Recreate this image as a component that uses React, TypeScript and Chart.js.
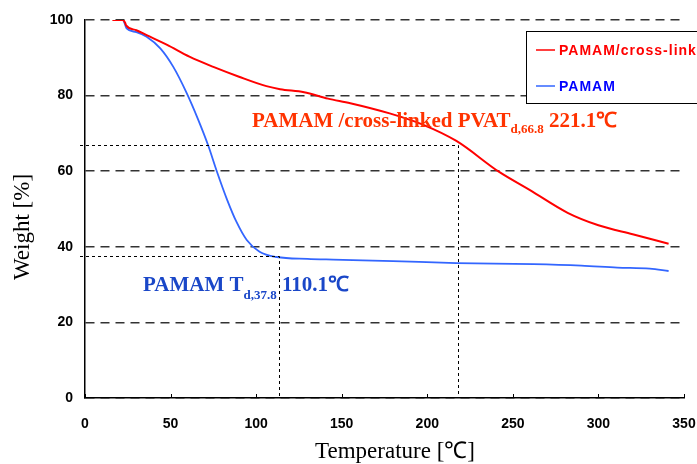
import React, { useEffect, useRef } from "react";
import { Chart, registerables } from "chart.js";

Chart.register(...registerables);

// ---- data ----
const seriesLabels = ["PAMAM/cross-link", "PAMAM"];

const crossLinkTemp = [16, 22, 23.5, 24, 30, 36, 48, 61, 75, 90, 106, 114, 128, 142, 155, 178, 197, 217, 242, 260, 282, 300, 320, 341];
const crossLinkWeight = [100, 100, 99.2, 98.6, 97.3, 96.0, 93.4, 90.3, 87.6, 85.0, 82.5, 81.7, 80.9, 79.2, 78.0, 75.3, 72.4, 68.0, 59.8, 55.0, 49.0, 45.7, 43.3, 40.8];

const pamamTemp = [22.4, 23.4, 24.3, 30, 36, 44, 51.6, 59.5, 66, 72, 77, 83, 88.6, 94.5, 102, 112, 130, 145, 180, 217, 262, 290, 311, 330, 341];
const pamamWeight = [100, 98.8, 97.8, 96.8, 95.6, 92.5, 87.6, 80.6, 73.8, 66.8, 60.0, 52.5, 46.5, 41.8, 38.7, 37.3, 36.8, 36.6, 36.2, 35.7, 35.4, 35.0, 34.5, 34.2, 33.6];

const xTickValues = [0, 50, 100, 150, 200, 250, 300, 350];

// decomposition markers: [temperature, weight]
const crossLinkMarker = [218, 66.8];
const pamamMarker = [113.4, 37.6];

const crossLinkNote = ["PAMAM /cross-linked PVAT", "d,66.8", " 221.1℃"];
const pamamNote = ["PAMAM T", "d,37.8", " 110.1℃"];

const xTitle = "Temperature [℃]";
const yTitle = "Weight [%]";

const RED = "#ff0000";
const BLUE = "#3366ff";
const SANS = "'Liberation Sans', Arial, sans-serif";
const SERIF = "'Liberation Serif', 'Times New Roman', serif";

function drawRuns(ctx: CanvasRenderingContext2D, x: number, y: number, runs: { text: string; font: string; dy: number }[]) {
  for (const r of runs) {
    ctx.font = r.font;
    ctx.fillText(r.text, x, y + r.dy);
    x += ctx.measureText(r.text).width;
  }
}

const overlay = {
  id: "overlay",
  afterDatasetsDraw(chart: any) {
    const { ctx, chartArea: a, scales } = chart;
    const x = scales.x, y = scales.y;
    ctx.save();
    ctx.strokeStyle = "#000";
    ctx.lineWidth = 1;
    ctx.setLineDash([3, 3]);
    for (const m of [crossLinkMarker, pamamMarker]) {
      const px = Math.round(x.getPixelForValue(m[0])) + 0.5;
      const py = Math.round(y.getPixelForValue(m[1])) + 0.5;
      ctx.beginPath();
      ctx.moveTo(a.left - 5, py);
      ctx.lineTo(px, py);
      ctx.lineTo(px, a.bottom);
      ctx.stroke();
    }
    ctx.restore();
  },
  afterDraw(chart: any) {
    const { ctx, chartArea: a, scales } = chart;
    const x = scales.x;
    ctx.save();
    // inward x ticks
    ctx.strokeStyle = "#000";
    ctx.lineWidth = 1;
    for (const t of xTickValues) {
      const px = Math.round(x.getPixelForValue(t)) + 0.5;
      ctx.beginPath();
      ctx.moveTo(px, a.bottom);
      ctx.lineTo(px, a.bottom - 4);
      ctx.stroke();
    }
    // axis titles
    ctx.fillStyle = "#000";
    ctx.textAlign = "center";
    ctx.textBaseline = "alphabetic";
    ctx.font = `23px ${SERIF}`;
    ctx.fillText(xTitle, 395, 458);
    ctx.save();
    ctx.translate(29, 227);
    ctx.rotate(-Math.PI / 2);
    ctx.fillText(yTitle, 0, 0);
    ctx.restore();

    // notes
    ctx.textAlign = "left";
    ctx.fillStyle = "#ff3300";
    drawRuns(ctx, 252, 127, [
      { text: crossLinkNote[0], font: `bold 21px ${SERIF}`, dy: 0 },
      { text: crossLinkNote[1], font: `bold 13px ${SERIF}`, dy: 6 },
      { text: crossLinkNote[2], font: `bold 21px ${SERIF}`, dy: 0 },
    ]);
    ctx.fillStyle = "#1a47c8";
    drawRuns(ctx, 143, 291, [
      { text: pamamNote[0], font: `bold 21px ${SERIF}`, dy: 0 },
      { text: pamamNote[1], font: `bold 13px ${SERIF}`, dy: 8 },
      { text: pamamNote[2], font: `bold 21px ${SERIF}`, dy: 0 },
    ]);

    // legend
    const lx = 526.5, ly = 31.5;
    ctx.fillStyle = "#fff";
    ctx.fillRect(lx, ly, 200, 72);
    ctx.strokeStyle = "#000";
    ctx.lineWidth = 1;
    ctx.setLineDash([]);
    ctx.strokeRect(lx, ly, 200, 72);
    const ds = chart.data.datasets;
    const rows = [50, 86];
    const textColors = ["#ff0000", "#0000ff"];
    ds.forEach((d: any, i: number) => {
      ctx.strokeStyle = d.borderColor;
      ctx.lineWidth = 1.5;
      ctx.beginPath();
      ctx.moveTo(536, rows[i]);
      ctx.lineTo(555, rows[i]);
      ctx.stroke();
      ctx.fillStyle = textColors[i];
      ctx.font = `bold 14px ${SANS}`;
      (ctx as any).letterSpacing = "1px";
      ctx.textBaseline = "middle";
      ctx.fillText(d.label, 559, rows[i] + 1);
    });
    (ctx as any).letterSpacing = "0px";
    ctx.restore();
  },
};

export default function App() {
  const ref = useRef<HTMLCanvasElement | null>(null);
  useEffect(() => {
    if (!ref.current) return;
    const tickFont = { family: SANS, size: 14, weight: "bold" as const };
    const chart = new Chart(ref.current, {
      type: "line",
      data: {
        datasets: [
          {
            label: seriesLabels[0],
            data: crossLinkTemp.map((t, i) => ({ x: t, y: crossLinkWeight[i] })),
            borderColor: RED,
            borderWidth: 2,
            pointRadius: 0,
            cubicInterpolationMode: "monotone",
            fill: false,
          },
          {
            label: seriesLabels[1],
            data: pamamTemp.map((t, i) => ({ x: t, y: pamamWeight[i] })),
            borderColor: BLUE,
            borderWidth: 1.8,
            pointRadius: 0,
            cubicInterpolationMode: "monotone",
            fill: false,
          },
        ],
      },
      options: {
        responsive: false,
        animation: false,
        devicePixelRatio: 1,
        layout: { padding: { top: 20, right: 13, left: 0, bottom: 0 } },
        plugins: { legend: { display: false }, tooltip: { enabled: false } },
        scales: {
          x: {
            type: "linear",
            min: 0,
            max: 350,
            ticks: { stepSize: 50, font: tickFont, color: "#000", padding: 10, maxRotation: 0, autoSkip: false },
            grid: { display: false },
            border: { display: true, color: "#000", width: 1.5 },
            afterFit: (s: any) => { s.height = 66; s.paddingLeft = 0; s.paddingRight = 0; },
          },
          y: {
            type: "linear",
            min: 0,
            max: 100,
            ticks: { stepSize: 20, font: tickFont, color: "#000", padding: 12 },
            grid: { display: true, color: "#333", lineWidth: 1.5, drawTicks: false },
            border: { display: true, color: "#000", width: 1.5, dash: [9, 6] },
            afterFit: (s: any) => { s.width = 85; s.paddingTop = 0; s.paddingBottom = 0; },
          },
        },
      },
      plugins: [overlay],
    });
    return () => chart.destroy();
  }, []);
  return (
    <div style={{ position: "fixed", left: 0, top: 0, width: 697, height: 464, background: "#fff" }}>
      <canvas ref={ref} width={697} height={464} />
    </div>
  );
}
